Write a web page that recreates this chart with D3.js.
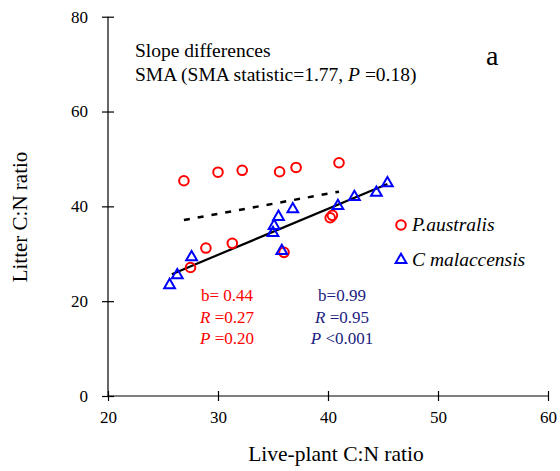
<!DOCTYPE html>
<html><head><meta charset="utf-8">
<script src="https://cdn.jsdelivr.net/npm/d3@7"></script>
<style>body{margin:0;background:#fff}svg{display:block}</style>
</head><body><svg id="c" width="560" height="471"></svg>
<script>
// P. australis
const paX = [26.9, 30.0, 32.2, 35.6, 37.1, 41.0, 40.2, 40.4, 28.9, 31.3, 36.0, 27.5];
const paY = [45.4, 47.2, 47.6, 47.3, 48.2, 49.2, 37.6, 38.1, 31.2, 32.2, 30.3, 27.1];
// C. malaccensis
const cmX = [25.6, 26.3, 27.6, 35.0, 35.1, 35.5, 36.8, 35.8, 40.9, 42.4, 44.4, 45.4];
const cmY = [23.4, 25.5, 29.3, 34.4, 35.9, 37.8, 39.4, 30.6, 40.1, 42.0, 42.9, 44.9];
// SMA fit lines (endpoints)
const paFitX = [26.9, 41.0], paFitY = [37.1, 43.1];
const cmFitX = [25.8, 45.4], cmFitY = [25.7, 44.7];
const xTicks = [20, 30, 40, 50, 60];
const yTicks = [0, 20, 40, 60, 80];

const FONT = '"Liberation Serif", "Times New Roman", serif';
const svg = d3.select("#c").attr("font-family", FONT);
const x = d3.scaleLinear().domain([20, 60]).range([108, 548]);
const y = d3.scaleLinear().domain([0, 80]).range([396, 16.7]);

function txt(sel) { return sel.style("font-family", FONT); }

// axes
const gx = svg.append("g").attr("transform", `translate(0,${y(0)})`)
  .call(d3.axisBottom(x).tickValues(xTicks).tickSize(5).tickPadding(10).tickFormat(d3.format("d")));
gx.selectAll(".tick line").attr("y1", -5).attr("y2", 5);
const gy = svg.append("g").attr("transform", `translate(${x(20)},0)`)
  .call(d3.axisLeft(y).tickValues(yTicks).tickSize(6).tickPadding(14).tickFormat(d3.format("d")));
gy.selectAll(".tick line").attr("x1", -6).attr("x2", 6);
[gx, gy].forEach(g => {
  g.attr("font-family", FONT);
  g.select(".domain").attr("stroke", "#000").attr("stroke-width", 1.2);
  g.selectAll(".tick line").attr("stroke", "#000").attr("stroke-width", 1.2);
  txt(g.selectAll(".tick text")).attr("fill", "#000").style("font-size", "17px");
});
gy.select(".domain").attr("d", `M0,${y(80)}V${y(0)}`);
gx.select(".domain").attr("d", `M${x(20)},0H${x(60)}`);

// titles
txt(svg.append("text")).attr("x", 336).attr("y", 461).attr("text-anchor", "middle")
  .style("font-size", "21.5px").text("Live-plant C:N ratio");
txt(svg.append("text")).attr("transform", "translate(27,217) rotate(-90)").attr("text-anchor", "middle")
  .style("font-size", "21px").text("Litter C:N ratio");

// fit lines
const line = d3.line().x(d => x(d[0])).y(d => y(d[1]));
svg.append("path").attr("d", line(d3.zip(paFitX, paFitY))).attr("fill", "none")
  .attr("stroke", "#000").attr("stroke-width", 2.5).attr("stroke-dasharray", "6,8");
svg.append("path").attr("d", line(d3.zip(cmFitX, cmFitY))).attr("fill", "none")
  .attr("stroke", "#000").attr("stroke-width", 2.2);

// points
svg.append("g").selectAll("circle").data(d3.zip(paX, paY)).join("circle")
  .attr("cx", d => x(d[0])).attr("cy", d => y(d[1])).attr("r", 4.8)
  .attr("fill", "none").attr("stroke", "#ff0000").attr("stroke-width", 2);
const tri = d3.symbol().type(d3.symbolTriangle).size(50);
svg.append("g").selectAll("path").data(d3.zip(cmX, cmY)).join("path")
  .attr("transform", d => `translate(${x(d[0])},${y(d[1])})`).attr("d", tri)
  .attr("fill", "none").attr("stroke", "#0000ff").attr("stroke-width", 2);

// annotations
txt(svg.append("text")).attr("x", 135).attr("y", 57).style("font-size", "19.5px").text("Slope differences");
const t2 = txt(svg.append("text")).attr("x", 135).attr("y", 81).style("font-size", "19.5px");
t2.append("tspan").text("SMA (SMA statistic=1.77, ");
t2.append("tspan").style("font-style", "italic").text("P");
t2.append("tspan").text(" =0.18)");
txt(svg.append("text")).attr("x", 486).attr("y", 65).style("font-size", "28px").text("a");

// legend
svg.append("circle").attr("cx", 401).attr("cy", 225).attr("r", 4.8)
  .attr("fill", "none").attr("stroke", "#ff0000").attr("stroke-width", 2);
txt(svg.append("text")).attr("x", 412).attr("y", 231).style("font-size", "19.5px").style("font-style", "italic").text("P.australis");
svg.append("path").attr("transform", "translate(401,260)").attr("d", tri)
  .attr("fill", "none").attr("stroke", "#0000ff").attr("stroke-width", 2);
txt(svg.append("text")).attr("x", 412).attr("y", 266).style("font-size", "19.5px").style("font-style", "italic").text("C malaccensis");

// stats
function stats(cx, color, lines) {
  lines.forEach((l, i) => {
    const t = txt(svg.append("text")).attr("x", cx).attr("y", 301 + i * 21.5).attr("text-anchor", "middle")
      .attr("fill", color).style("font-size", "17px");
    if (l[0]) t.append("tspan").style("font-style", "italic").text(l[0]);
    t.append("tspan").text(l[1]);
  });
}
stats(227, "#ff0000", [["", "b= 0.44"], ["R", " =0.27"], ["P", " =0.20"]]);
stats(342, "#1c1c80", [["", "b=0.99"], ["R", " =0.95"], ["P", " <0.001"]]);
</script></body></html>
